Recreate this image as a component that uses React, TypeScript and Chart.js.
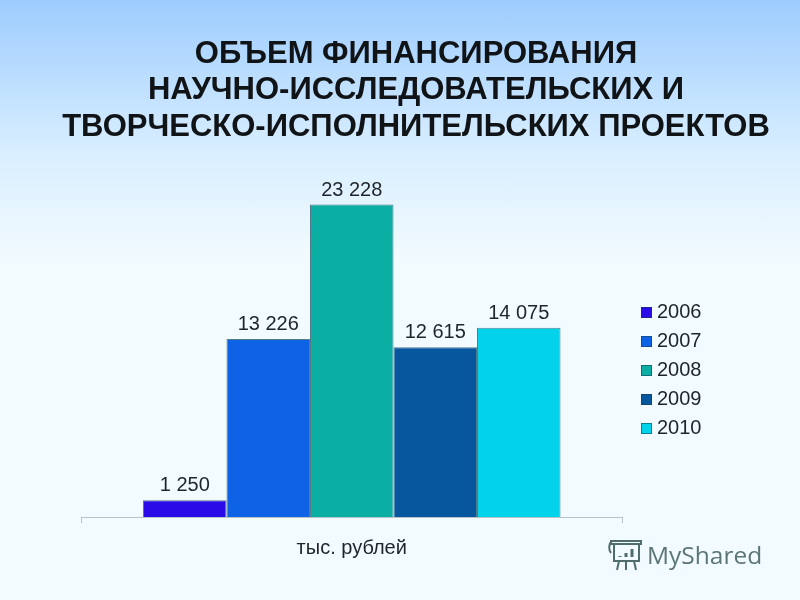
import React, { useEffect, useRef } from "react";
import { Chart, registerables } from "chart.js";

Chart.register(...registerables);

const categories = ["тыс. рублей"];
const years = ["2006", "2007", "2008", "2009", "2010"];
const values = [1250, 13226, 23228, 12615, 14075];
const colors = ["#2a0ce8", "#0d62e6", "#0aaea3", "#07579e", "#02d3ea"];
const titleLines = [
  "ОБЪЕМ ФИНАНСИРОВАНИЯ",
  "НАУЧНО-ИССЛЕДОВАТЕЛЬСКИХ И",
  "ТВОРЧЕСКО-ИСПОЛНИТЕЛЬСКИХ ПРОЕКТОВ",
];

const FONT = "'Liberation Sans', Arial, sans-serif";
const fmt = (v: number) => String(v).replace(/\B(?=(\d{3})+$)/g, " ");

function swatch(color: string) {
  const c = document.createElement("canvas");
  c.width = 11;
  c.height = 11;
  const x = c.getContext("2d")!;
  x.fillStyle = color;
  x.fillRect(0, 0, 11, 11);
  x.strokeStyle = "rgba(20,60,80,0.55)";
  x.strokeRect(0.5, 0.5, 10, 10);
  return c;
}

const placeBoxes = {
  id: "placeBoxes",
  afterLayout(chart: any) {
    const t = chart.titleBlock;
    if (t) {
      t.left = 32;
      t.right = 800;
    }
    const l = chart.legend;
    if (l) {
      const w = l.right - l.left;
      l.left = 637;
      l.right = l.left + w;
      const h = l.bottom - l.top;
      const mid = 370.5;
      l.top = mid - h / 2;
      l.bottom = mid + h / 2;
    }
  },
};

const valueLabels = {
  id: "valueLabels",
  afterDatasetsDraw(chart: any) {
    const { ctx } = chart;
    ctx.save();
    ctx.font = `20px ${FONT}`;
    ctx.fillStyle = "#1f2428";
    ctx.textAlign = "center";
    ctx.textBaseline = "alphabetic";
    chart.data.datasets.forEach((ds: any, i: number) => {
      const el = chart.getDatasetMeta(i).data[0];
      ctx.fillText(fmt(ds.data[0]), el.x, el.y - 9);
    });
    ctx.restore();
  },
};

export default function App() {
  const ref = useRef<HTMLCanvasElement>(null);
  useEffect(() => {
    const chart = new Chart(ref.current!, {
      type: "bar",
      data: {
        labels: categories,
        datasets: years.map((y, i) => ({
          label: y,
          data: [values[i]],
          backgroundColor: colors[i],
          borderColor: "rgba(20,70,90,0.7)",
          borderWidth: 1,
        })),
      },
      plugins: [placeBoxes, valueLabels],
      options: {
        responsive: false,
        animation: false,
        datasets: { bar: { barPercentage: 1, categoryPercentage: 0.771 } },
        layout: { padding: { left: 81, right: 103, top: 0, bottom: 27 } },
        scales: {
          x: {
            grid: { drawOnChartArea: false, color: "#b9c2c8", tickLength: 6, offset: true },
            border: { color: "#b9c2c8" },
            ticks: { color: "#1f2428", font: { family: FONT, size: 20 }, padding: 13 },
          },
          y: { display: false, min: 0, max: 25000 },
        },
        plugins: {
          tooltip: { enabled: false },
          title: {
            display: true,
            text: titleLines,
            color: "#111417",
            font: { family: FONT, size: 31, weight: "bold", lineHeight: 1.18 },
            padding: { top: 36, bottom: 35 },
          },
          legend: {
            position: "right",
            labels: {
              color: "#1f2428",
              font: { family: FONT, size: 20 },
              usePointStyle: true,
              boxWidth: 1,
              padding: 9,
              generateLabels: (c: any) =>
                c.data.datasets.map((d: any, i: number) => ({
                  text: d.label,
                  pointStyle: swatch(colors[i]),
                  fontColor: "#1f2428",
                  datasetIndex: i,
                })),
            },
          },
        },
      },
    } as any);
    return () => chart.destroy();
  }, []);

  return (
    <div
      style={{
        position: "fixed",
        left: 0,
        top: 0,
        width: 800,
        height: 600,
        overflow: "hidden",
        background: "linear-gradient(to bottom, #9dccff 0px, #d8eeff 150px, #f2fbff 260px, #f2fbff 600px)",
      }}
    >
      <canvas ref={ref} width={800} height={600} style={{ display: "block" }} />
      <svg width="40" height="34" viewBox="0 0 40 34" style={{ position: "absolute", left: 607, top: 538 }} fill="none" stroke="#4f6d6c" strokeWidth="2">
        <path d="M4 3h30v3H4zM7 6v17h25V6M5 3C1 6 2 13 4 15M12 23l-2 9M19 23v9M27 23l2 9" />
        <path d="M13 19v-1M19 19v-4M25 19V11" strokeWidth="3" />
      </svg>
      <div
        style={{
          position: "absolute",
          left: 647,
          top: 537,
          fontFamily: "'Open Sans', sans-serif",
          fontSize: 24.5,
          lineHeight: "36px",
          color: "#5b7675",
        }}
      >
        MyShared
      </div>
    </div>
  );
}
